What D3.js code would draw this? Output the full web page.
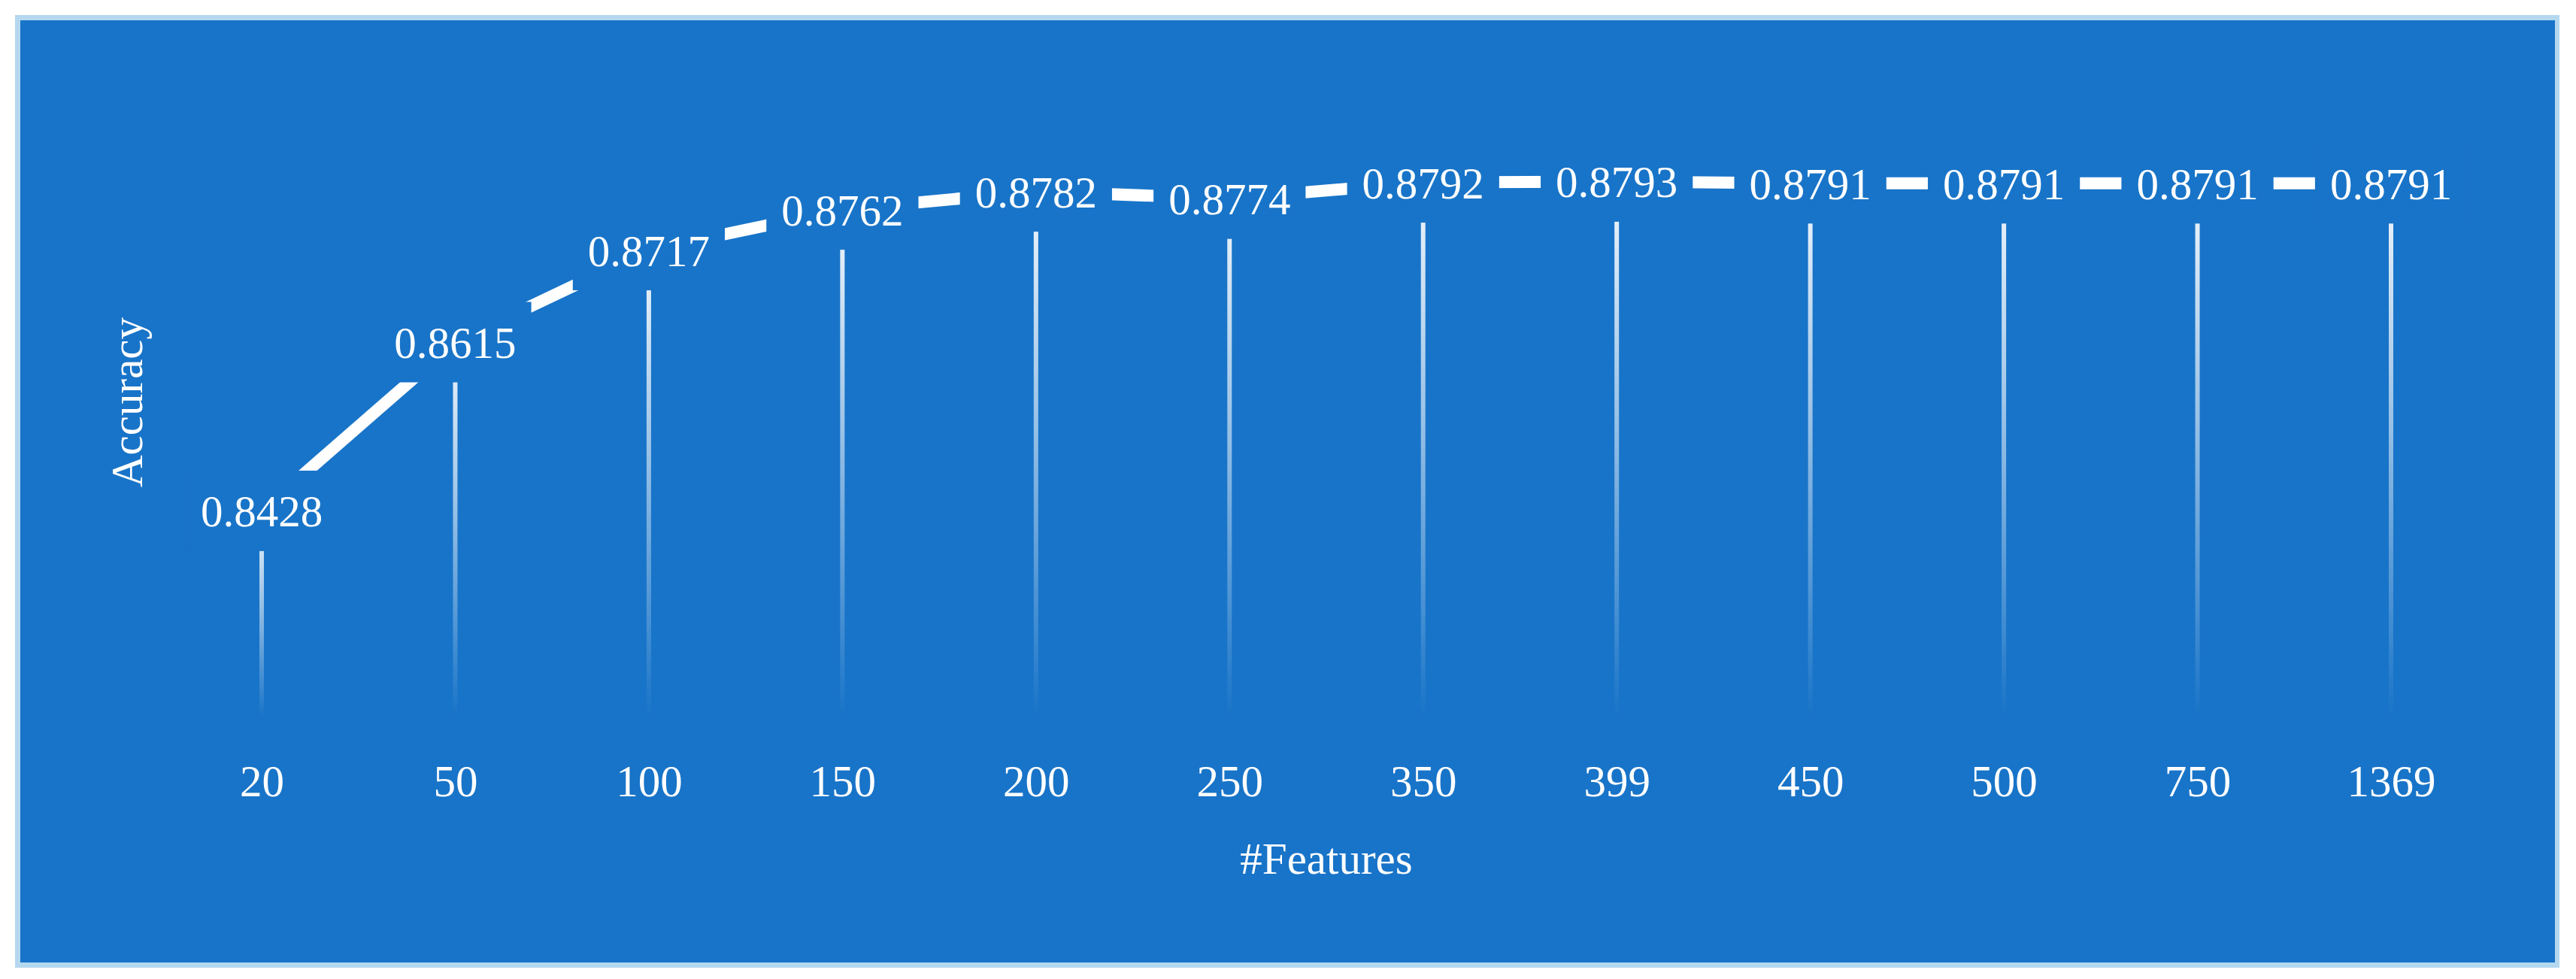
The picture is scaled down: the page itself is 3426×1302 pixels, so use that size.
<!DOCTYPE html>
<html>
<head>
<meta charset="utf-8">
<script src="https://cdn.jsdelivr.net/npm/d3@7/dist/d3.min.js"></script>
<style>
  html, body { margin: 0; padding: 0; background: #ffffff; }
  svg { display: block; }
  text { font-family: "Palatino Linotype", "Book Antiqua", Palatino, "Liberation Serif", serif; fill: #ffffff; }
</style>
</head>
<body>
<svg id="chart" width="3426" height="1302"></svg>
<script>
const categories = ["20", "50", "100", "150", "200", "250", "350", "399", "450", "500", "750", "1369"];
const accuracy = [0.8428, 0.8615, 0.8717, 0.8762, 0.8782, 0.8774, 0.8792, 0.8793, 0.8791, 0.8791, 0.8791, 0.8791];
const labelText = ["0.8428", "0.8615", "0.8717", "0.8762", "0.8782", "0.8774", "0.8792", "0.8793", "0.8791", "0.8791", "0.8791", "0.8791"];
const yDomain = [0.82, 0.88];
const xTitle = "#Features";
const yTitle = "Accuracy";

const BG = "#1874C8";
const BORDER = "#B4D8F0";
const FS = 59;

const svg = d3.select("#chart");
const data = categories.map((c, i) => ({ c, v: accuracy[i], t: labelText[i] }));

// frame
svg.append("rect").attr("x", 20).attr("y", 20).attr("width", 3384).attr("height", 1267).attr("fill", BORDER);
svg.append("rect").attr("x", 27).attr("y", 27).attr("width", 3371).attr("height", 1253).attr("fill", BG);

const x = d3.scalePoint().domain(categories).range([348, 3180]);
const y = d3.scaleLinear().domain(yDomain).range([953, 233]);

const defs = svg.append("defs");
const grad = defs.append("linearGradient").attr("id", "dropGrad")
  .attr("x1", 0).attr("y1", 0).attr("x2", 0).attr("y2", 1);
grad.append("stop").attr("offset", "0%").attr("stop-color", "#ffffff").attr("stop-opacity", 0.95);
grad.append("stop").attr("offset", "45%").attr("stop-color", "#ffffff").attr("stop-opacity", 0.55);
grad.append("stop").attr("offset", "100%").attr("stop-color", "#ffffff").attr("stop-opacity", 0.0);

// drop lines
const baseY = y(yDomain[0]);
svg.append("g").selectAll("rect").data(data).join("rect")
  .attr("x", d => x(d.c) - 3)
  .attr("y", d => y(d.v))
  .attr("width", 6)
  .attr("height", d => baseY - y(d.v))
  .attr("fill", "url(#dropGrad)");

// line
const line = d3.line().x(d => x(d.c)).y(d => y(d.v));
svg.append("path").datum(data)
  .attr("d", line)
  .attr("fill", "none")
  .attr("stroke", "#ffffff")
  .attr("stroke-width", 16)
  .attr("stroke-linejoin", "miter");

// data labels with opaque boxes
const lg = svg.append("g").selectAll("g").data(data).join("g")
  .attr("transform", d => `translate(${x(d.c)},${y(d.v)})`);
const boxes = lg.append("rect").attr("fill", BG);
const lt = lg.append("text")
  .attr("text-anchor", "middle")
  .attr("y", 21)
  .style("font-size", FS + "px")
  .text(d => d.t);
lt.each(function () {
  const w = this.getComputedTextLength();
  d3.select(this.parentNode).select("rect")
    .attr("x", -w / 2 - 20).attr("y", -53.5)
    .attr("width", w + 40).attr("height", 107);
});

// x axis (tick labels)
const xAxis = svg.append("g").attr("transform", "translate(0,1000)")
  .call(d3.axisBottom(x).tickSize(0));
xAxis.select(".domain").remove();
xAxis.selectAll("text")
  .attr("y", 59).attr("dy", 0)
  .style("font-size", FS + "px")
  .style("font-family", "\"Palatino Linotype\", \"Book Antiqua\", Palatino, \"Liberation Serif\", serif")
  .attr("fill", "#ffffff");

// axis titles
svg.append("text")
  .attr("x", 1764).attr("y", 1162)
  .attr("text-anchor", "middle")
  .style("font-size", FS + "px")
  .text(xTitle);

svg.append("text")
  .attr("transform", "translate(189,535) rotate(-90)")
  .attr("text-anchor", "middle")
  .style("font-size", FS + "px")
  .text(yTitle);
</script>
</body>
</html>
